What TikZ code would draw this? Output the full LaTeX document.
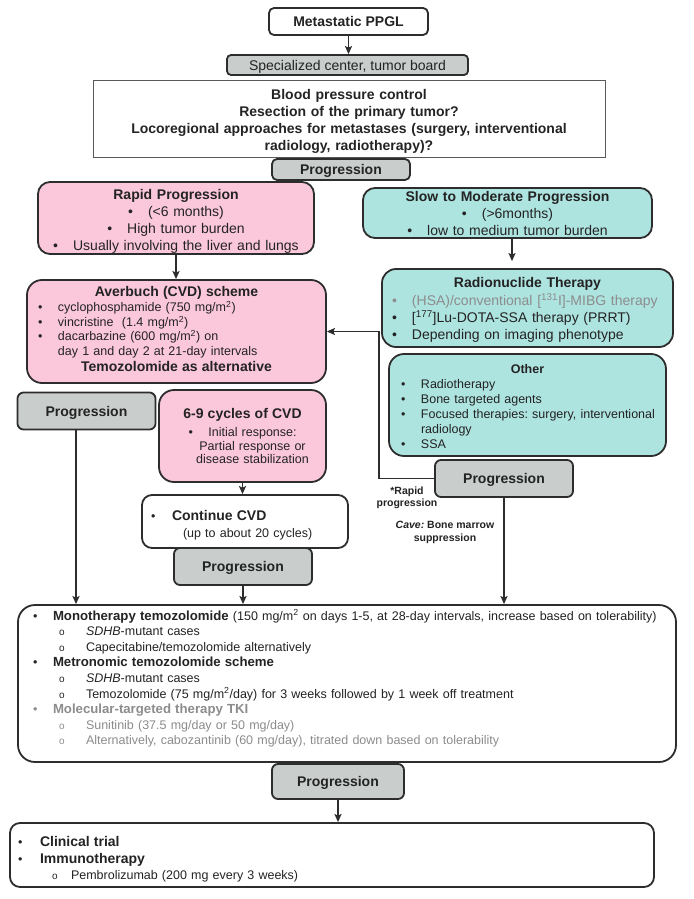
\documentclass[tikz,border=0pt]{standalone}
\usepackage{fontspec}
\setmainfont{Liberation Sans}
\usepackage{xcolor}
\usetikzlibrary{arrows.meta, positioning}

\definecolor{pinkfill}{RGB}{251,199,218}
\definecolor{tealfill}{RGB}{174,228,224}
\definecolor{greyfill}{RGB}{201,205,204}
\definecolor{edgec}{RGB}{45,45,45}
\definecolor{inkc}{RGB}{35,35,35}
\definecolor{greyink}{RGB}{140,140,140}

\frenchspacing
\newcommand{\fbig}{\fontsize{14}{17}\selectfont}
\newcommand{\fmid}{\fontsize{12.5}{15}\selectfont}
\newcommand{\fnote}{\fontsize{10.5}{12}\selectfont}
% bullet line: indent, bullet column, text
\newcommand{\bul}[3]{\makebox[\linewidth][l]{\hspace*{#1}\makebox[#2][l]{\textbullet}#3}}
\newcommand{\subbul}[3]{\makebox[\linewidth][l]{\hspace*{#1}\makebox[#2][l]{\fontsize{10}{12}\selectfont o}#3}}

\begin{document}
\begin{tikzpicture}[x=1pt,y=-1pt,>={Stealth[length=8pt,width=7pt,inset=1.5pt]},text=inkc]
    \tikzstyle{box}=[shape=rectangle,draw=edgec,line width=1.8pt,inner sep=0pt,rounded corners=6pt]
    \tikzstyle{progbox}=[box,fill=greyfill,minimum width=138pt,minimum height=37pt,text depth=0pt,font=\fbig\bfseries]
    \tikzstyle{pinkbox}=[box,fill=pinkfill]
    \tikzstyle{tealbox}=[box,fill=tealfill]
    \tikzstyle{note}=[inner sep=0pt,align=center,font=\fnote\bfseries]
    \tikzstyle{link}=[draw=edgec,line width=1.8pt,every edge/.append style={->}]

    \useasboundingbox (0,0) rectangle (693,899);

    % top of the chart
    \node[box,minimum width=159pt,minimum height=27pt,rounded corners=5pt,font=\fbig\bfseries] (ppgl) at (348.5,21.5) {Metastatic PPGL};
    \node[box,fill=greyfill,minimum width=241pt,minimum height=20pt,rounded corners=4pt,text depth=0pt,font=\fbig] (board) at (347.5,65) {Specialized center, tumor board};
    \node[box,rounded corners=0pt,line width=1pt,draw=black!65,text width=512pt,minimum height=77pt,text height=16pt,align=center,font=\fbig\bfseries] (aims) at (349,118.5) {Blood pressure control\\
        Resection of the primary tumor?\\
        Locoregional approaches for metastases (surgery, interventional\\
        radiology, radiotherapy)?};
    \node[progbox,minimum height=21pt,rounded corners=5pt] (prog1) at (341,169.5) {Progression};

    % rapid branch
    \node[pinkbox,rounded corners=12pt,text width=276pt,minimum height=72pt,text height=16pt,align=center,font=\fbig] (rapid) at (176,218) {\textbf{Rapid Progression}\\
        \textbullet\hspace{15pt}(<6 months)\\
        \textbullet\hspace{15pt}High tumor burden\\
        \textbullet\hspace{15pt}Usually involving the liver and lungs};
    \node[pinkbox,rounded corners=15pt,text width=299pt,minimum height=103pt,text depth=81pt,align=center,font=\fontsize{12.5}{14.4}\selectfont] (cvd) at (176.5,331.5) {{\fbig\bfseries Averbuch (CVD) scheme}\\[1.5pt]
        \bul{11pt}{20pt}{cyclophosphamide (750 mg/m\textsuperscript{2})}\\
        \bul{11pt}{20pt}{vincristine\ \ (1.4 mg/m\textsuperscript{2})}\\
        \bul{11pt}{20pt}{dacarbazine (600 mg/m\textsuperscript{2}) on}\\
        \makebox[\linewidth][l]{\hspace*{31pt}day 1 and day 2 at 21-day intervals}\\[2pt]
        {\fbig\bfseries Temozolomide as alternative}};
    \node[progbox] (progL) at (86.5,411) {Progression};
    \node[pinkbox,rounded corners=15pt,text width=167pt,minimum height=92pt,align=center,font=\fontsize{12.5}{13.5}\selectfont] (cycles) at (242.5,436) {{\fbig\bfseries 6-9 cycles of CVD}\\[4.5pt]
        \hspace*{20pt}\llap{\textbullet\hspace{15.5pt}}Initial response:\\
        \hspace*{20pt}Partial response or\\
        \hspace*{20pt}disease stabilization};
    \node[box,fill=white,rounded corners=10pt,text width=206pt,minimum height=53pt,text height=18pt,align=left,font=\fontsize{12.5}{17}\selectfont] (cont) at (245,521.5) {\bul{9pt}{21pt}{\fbig\bfseries Continue CVD}\\
        \hspace*{41pt}(up to about 20 cycles)};
    \node[progbox] (progM) at (243,566.5) {Progression};

    % slow branch
    \node[tealbox,rounded corners=12pt,text width=289pt,minimum height=50pt,text height=12pt,align=center,font=\fbig] (slow) at (507.5,213) {\textbf{Slow to Moderate Progression}\\
        \textbullet\hspace{15pt}(>6months)\\
        \textbullet\hspace{15pt}low to medium tumor burden};
    \node[tealbox,rounded corners=14pt,text width=291pt,minimum height=78pt,text height=14pt,align=center,font=\fbig] (radio) at (527.5,308) {\textbf{Radionuclide Therapy}\\[1pt]
        {\color{greyink}\bul{10pt}{20pt}{(HSA)/conventional [\textsuperscript{131}I]-MIBG therapy}}\\
        \bul{10pt}{20pt}{[\textsuperscript{177}]Lu-DOTA-SSA therapy (PRRT)}\\
        \bul{10pt}{20pt}{Depending on imaging phenotype}};
    \node[tealbox,rounded corners=15pt,text width=277pt,minimum height=102pt,text height=13pt,align=center,font=\fmid] (other) at (527.5,405) {{\bfseries Other}\\
        \bul{12pt}{20pt}{Radiotherapy}\\
        \bul{12pt}{20pt}{Bone targeted agents}\\
        \bul{12pt}{20pt}{Focused therapies: surgery, interventional}\\
        \makebox[\linewidth][l]{\hspace*{32pt}radiology}\\
        \bul{12pt}{20pt}{SSA}};
    \node[progbox] (progR) at (504,478.5) {Progression};
    \node[note] (rapidnote) at (407,498) {*Rapid\\progression};
    \node[note,font=\fontsize{10.5}{13}\selectfont\bfseries] (cavenote) at (445,532) {\textit{Cave:} Bone marrow\\suppression};

    % second line therapy
    \node[box,fill=white,rounded corners=17pt,text width=658pt,minimum height=157pt,text depth=137.4pt,align=left,font=\fontsize{12.5}{15.6}\selectfont] (mono) at (347,683.5) {\bul{15pt}{20pt}{{\fontsize{13.2}{15}\selectfont\bfseries Monotherapy temozolomide} (150 mg/m\textsuperscript{2} on days 1-5, at 28-day intervals, increase based on tolerability)}\\
        \subbul{41pt}{27pt}{\textit{SDHB}-mutant cases}\\
        \subbul{41pt}{27pt}{Capecitabine/temozolomide alternatively}\\
        \bul{15pt}{20pt}{\fontsize{13.2}{15}\selectfont\bfseries Metronomic temozolomide scheme}\\
        \subbul{41pt}{27pt}{\textit{SDHB}-mutant cases}\\
        \subbul{41pt}{27pt}{Temozolomide (75 mg/m\textsuperscript{2}/day) for 3 weeks followed by 1 week off treatment}\\
        {\color{greyink}\bul{15pt}{20pt}{\fontsize{13.2}{15}\selectfont\bfseries Molecular-targeted therapy TKI}}\\
        {\color{greyink}\subbul{41pt}{27pt}{Sunitinib (37.5 mg/day or 50 mg/day)}}\\
        {\color{greyink}\subbul{41pt}{27pt}{Alternatively, cabozantinib (60 mg/day), titrated down based on tolerability}}};
    \node[progbox,minimum width=132pt,minimum height=35pt] (progB) at (338,781.5) {Progression};
    \node[box,fill=white,rounded corners=10pt,text width=644pt,minimum height=64pt,text height=19pt,align=left,font=\fontsize{12.5}{16.5}\selectfont] (final) at (332,855) {\bul{8pt}{22pt}{\fbig\bfseries Clinical trial}\\
        \bul{8pt}{22pt}{\fbig\bfseries Immunotherapy}\\
        \subbul{42pt}{19pt}{Pembrolizumab (200 mg every 3 weeks)}};

    \path[link]
    (ppgl.south) edge (ppgl.south |- board.north)
    (rapid.south) edge (rapid.south |- cvd.north)
    ([xshift=4.5pt]slow.south) edge[shorten >=7pt] ([xshift=4.5pt]slow.south |- radio.north)
    (cycles.south) edge (cycles.south |- cont.north)
    ([xshift=-10.5pt]progL.south) edge ([xshift=-10.5pt]progL.south |- mono.north)
    (progM.south) edge (progM.south |- mono.north)
    (progR.south) edge (progR.south |- mono.north)
    (progB.south) edge (progB.south |- final.north)
    ;
    \coordinate (bend) at (379,478.5);
    \draw[link,->] (progR.west) -- (bend) |- (cvd.east);

\end{tikzpicture}
\end{document}
